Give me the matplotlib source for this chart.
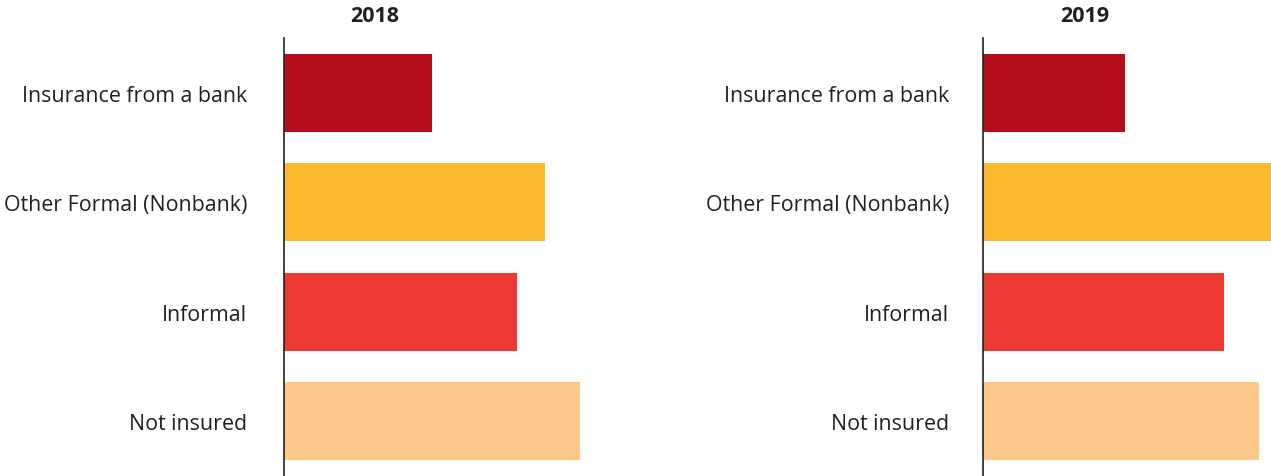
import matplotlib
matplotlib.use("Agg")
import matplotlib.pyplot as plt

categories = ["Insurance from a bank", "Other Formal (Nonbank)", "Informal", "Not insured"]
values_2018 = [14.8, 26.1, 23.3, 29.6]
values_2019 = [14.2, 28.8, 24.1, 27.6]
years = ["2018", "2019"]
colors = ["#b50e1c", "#fbb92d", "#ee3a33", "#fcc88a"]

plt.rcParams["font.family"] = ["Open Sans", "DejaVu Sans"]
text_col = "#231f20"

W, H = 1271, 477
fig = plt.figure(figsize=(W / 100, H / 100), dpi=100)

# axes in pixel terms: left edge, width (10 px per unit), label pad, title centre
panels = [(284, 300, values_2018, years[0], 375, 26.5),
          (983, 288, values_2019, years[1], 1085, 24.5)]

for left, width, vals, yr, title_x, pad in panels:
    ax = fig.add_axes([left / W, 0, width / W, (H - 39) / H])
    ax.barh(range(len(categories)), vals, height=0.715, color=colors)
    ax.set_xlim(0, width / 10)
    ax.set_ylim(3.5, -0.5)
    ax.set_yticks(range(len(categories)))
    ax.set_yticklabels(categories, fontsize=15.4, color=text_col)
    ax.tick_params(axis="y", length=0, pad=pad)
    ax.set_xticks([])
    for s in ["top", "right", "bottom"]:
        ax.spines[s].set_visible(False)
    ax.spines["left"].set_color(text_col)
    ax.spines["left"].set_linewidth(1.2)
    fig.text(title_x / W, 1 - 17 / H, yr, ha="center", va="center",
             fontsize=15.5, fontweight="bold", color=text_col)

fig.savefig("out.png", dpi=100)
